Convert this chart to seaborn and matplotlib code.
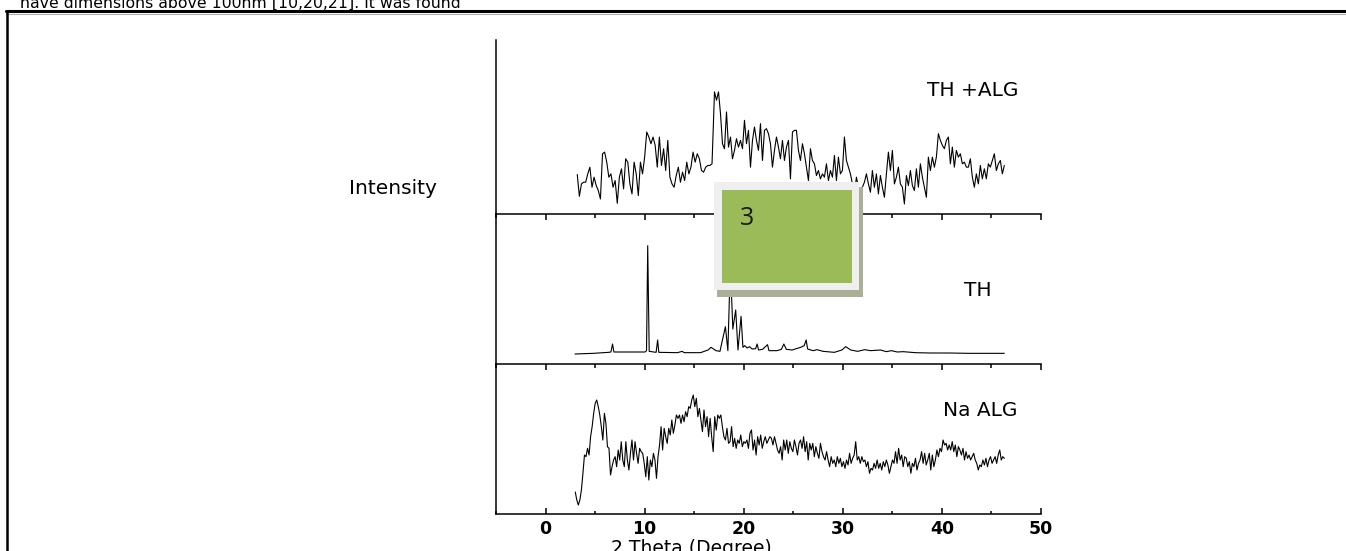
import numpy as np
import pandas as pd
import matplotlib
matplotlib.use("Agg")
import matplotlib.pyplot as plt
from matplotlib.lines import Line2D
from matplotlib.patches import Rectangle
from matplotlib.ticker import MultipleLocator
import seaborn as sns

# figure size in pixels
W, H = 1346, 551

# ---- data (intensities in arbitrary units) ----
# TH + ALG: two scan segments, split at the jump near 17 deg
tha_seg_a = [118, 53, 90, 95, 95, 120, 140, 80, 110, 85, 70, 45, 180, 185, 155,
             110, 120, 80, 100, 32, 110, 135, 75, 165, 155, 90, 60, 155, 120, 55,
             155, 120, 170, 245, 230, 210, 230, 205, 140, 230, 145, 195, 130, 220,
             110, 90, 80, 115, 140, 95, 125, 100, 155, 120, 140, 185, 155, 180, 165,
             130, 125, 140, 145, 145, 150]
tha_seg_b = [365, 340, 365, 300, 210, 195, 305, 200, 230, 165, 190, 225, 200, 220,
             195, 280, 210, 250, 140, 220, 260, 220, 190, 270, 160, 250, 255, 240,
             210, 140, 190, 230, 200, 165, 220, 160, 200, 220, 105, 245, 250, 250,
             190, 160, 210, 180, 140, 100, 195, 160, 150, 115, 130, 105, 120, 110,
             150, 100, 130, 110, 175, 100, 170, 120, 130, 230, 160, 140, 120, 90,
             60, 110, 80, 50, 80, 95, 120, 90, 65, 130, 80, 120, 60, 115, 80, 50,
             120, 185, 130, 190, 90, 110, 140, 90, 80, 30, 115, 85, 130, 85, 70,
             135, 80, 150, 110, 80, 50, 170, 130, 170, 140, 170, 240, 220, 205, 195,
             220, 230, 150, 200, 140, 190, 170, 180, 150, 155, 140, 140, 165, 110,
             80, 120, 90, 145, 105, 135, 105, 150, 140, 160, 180, 130, 150, 160,
             120, 145]
tha_range_a = (3.2, 16.8)
tha_range_b = (17.05, 46.3)

# TH: crystalline peaks (2theta, intensity)
th_2theta = [2.97, 4.83, 6.37, 6.6, 6.76, 6.9, 8.69, 10.04, 10.19, 10.31, 10.46,
             11.16, 11.31, 11.43, 13.32, 13.78, 14.0, 15.64, 16.4, 16.7, 17.2,
             17.6, 18.15, 18.4, 18.65, 18.9, 19.19, 19.42, 19.73, 19.92, 20.1,
             20.35, 20.58, 20.85, 21.2, 21.35, 21.5, 21.9, 22.4, 22.55, 23.36,
             23.8, 24.05, 24.3, 24.9, 25.3, 25.75, 26.1, 26.3, 26.45, 27.0, 27.4,
             28.0, 29.15, 29.9, 30.3, 30.8, 31.5, 32.2, 32.8, 33.8, 34.4, 34.9,
             35.5, 36.1, 37.3, 38.8, 40.7, 42.7, 44.6, 46.3]
th_int = [30, 32, 35, 36, 60, 36, 36, 36, 40, 355, 38, 35, 72, 35, 34, 38, 34,
          34, 42, 50, 40, 38, 112, 40, 300, 105, 162, 42, 143, 50, 55, 48, 52,
          45, 46, 60, 42, 44, 58, 40, 40, 44, 60, 44, 42, 46, 50, 55, 72, 45, 40,
          43, 38, 35, 42, 52, 42, 38, 43, 40, 42, 37, 40, 36, 37, 34, 33, 33, 32,
          32, 32]

# Na ALG: amorphous scan
na_alg = [66, 42, 27, 42, 72, 122, 177, 172, 197, 177, 232, 262, 302, 332, 342,
          322, 297, 262, 222, 302, 272, 202, 197, 117, 142, 162, 172,
          142, 192, 162, 217, 162, 142, 217, 162, 132, 182, 222, 162, 217, 182,
          152, 197, 187, 182, 152, 112, 172, 102, 162, 142, 182, 162, 107, 172,
          207, 262, 192, 257, 232, 212, 257, 237, 282, 242, 267, 297, 287, 297,
          272, 297, 277, 307, 292, 322, 317, 342, 357, 322, 347, 292, 317, 282,
          247, 312, 262, 292, 232, 287, 232, 187, 292, 252, 297, 287, 297, 262,
          232, 222, 257, 212, 217, 262, 202, 227, 197, 222, 212, 237, 202, 217,
          212, 222, 197, 242, 252, 192, 222, 177, 232, 207, 237, 197, 217, 232,
          212, 222, 232, 227, 207, 232, 212, 192, 182, 202, 162, 222, 192, 222,
          182, 217, 197, 187, 222, 202, 177, 212, 222, 197, 232, 187, 217, 162,
          212, 192, 212, 172, 202, 182, 167, 212, 187, 172, 162, 187, 162, 142,
          172, 152, 162, 142, 172, 152, 167, 142, 157, 137, 162, 147, 182, 152,
          167, 177, 217, 162, 172, 152, 172, 157, 162, 142, 157, 122, 137, 132,
          152, 137, 162, 137, 152, 132, 157, 142, 162, 147, 122, 142, 162, 152,
          187, 152, 197, 162, 177, 142, 172, 167, 142, 157, 122, 152, 142, 167,
          132, 152, 162, 187, 152, 182, 147, 162, 182, 132, 177, 142, 162, 192,
          172, 197, 187, 222, 207, 212, 192, 207, 192, 217, 187, 207, 172, 202,
          192, 177, 197, 162, 187, 167, 177, 162, 172, 182, 162, 152, 132, 147,
          142, 162, 147, 167, 142, 162, 172, 152, 162, 172, 152, 177, 192, 162,
          172, 167]
na_range = (3.0, 46.3)

series_labels = ["TH +ALG", "TH", "Na ALG"]
x_major = [0, 10, 20, 30, 40, 50]
x_label = "2 Theta (Degree)"
y_label = "Intensity"
page_text = "have dimensions above 100nm [10,20,21]. It was found"
box_text = "3"


def fx(px):
    return px / W


def fy(py):
    return 1 - py / H


def main():
    sns.set_style("ticks")
    plt.rcParams["font.family"] = ["DejaVu Sans"]
    plt.rcParams["text.color"] = "black"
    plt.rcParams["xtick.color"] = "black"
    plt.rcParams["xtick.labelcolor"] = "black"

    tha = pd.DataFrame({
        "two_theta": np.concatenate([np.linspace(*tha_range_a, len(tha_seg_a)),
                                     np.linspace(*tha_range_b, len(tha_seg_b))]),
        "intensity": tha_seg_a + tha_seg_b,
    })
    th = pd.DataFrame({"two_theta": th_2theta, "intensity": th_int})
    na = pd.DataFrame({"two_theta": np.linspace(*na_range, len(na_alg)),
                       "intensity": na_alg})

    fig = plt.figure(figsize=(W / 100, H / 100), dpi=100)
    fig.patch.set_facecolor("white")

    left, right = 496, 1041
    panels = [(40, 214, tha, 520), (214, 364, th, 450), (364, 514, na, 450)]
    axes = []
    for top, bot, df, ymax in panels:
        ax = fig.add_axes([fx(left), fy(bot), fx(right - left), (bot - top) / H])
        ax.set_facecolor("none")
        sns.lineplot(data=df, x="two_theta", y="intensity", ax=ax, color="black",
                     linewidth=0.8, estimator=None, sort=False)
        ax.set_xlim(-5, 50)
        ax.set_ylim(0, ymax)
        ax.set_xlabel("")
        ax.set_ylabel("")
        ax.set_yticks([])
        ax.set_xticks(x_major)
        ax.xaxis.set_minor_locator(MultipleLocator(5))
        for side in ["top", "right"]:
            ax.spines[side].set_visible(False)
        for side in ["left", "bottom"]:
            ax.spines[side].set_linewidth(1.1)
            ax.spines[side].set_color("black")
        axes.append(ax)

    for ax in axes[:2]:
        ax.tick_params(axis="x", which="major", direction="out", length=4.5,
                       width=1.1, color="black", labelbottom=False)
        ax.tick_params(axis="x", which="minor", direction="out", length=3,
                       width=1.1, color="black")
    axes[2].tick_params(axis="x", which="major", direction="in", length=4,
                        width=1.1, color="black", labelsize=12.5, pad=4,
                        labelcolor="black")
    axes[2].tick_params(axis="x", which="minor", direction="in", length=2.5,
                        width=1.1, color="black")
    for lab in axes[2].get_xticklabels():
        lab.set_fontweight("bold")

    # series labels
    fig.text(fx(973), fy(91), series_labels[0], ha="center", va="center", fontsize=14.5)
    fig.text(fx(978), fy(291), series_labels[1], ha="center", va="center", fontsize=14.5)
    fig.text(fx(980), fy(411), series_labels[2], ha="center", va="center", fontsize=14.5)

    fig.text(fx(393), fy(188), y_label, ha="center", va="center", fontsize=14.5)
    fig.text(fx(691), fy(539), x_label, ha="center", va="top", fontsize=13.5)

    # page frame and running text
    fig.add_artist(Line2D([fx(6), 1], [fy(11), fy(11)], color="black", lw=2.2))
    fig.add_artist(Line2D([fx(6), 1], [fy(13.5), fy(13.5)], color="#b0b0b0", lw=0.8))
    fig.add_artist(Line2D([fx(7), fx(7)], [0, fy(11)], color="black", lw=1.8))
    fig.text(fx(20), fy(8), page_text, ha="left", va="baseline", fontsize=11.3)

    # overlapping text box
    fig.add_artist(Rectangle((fx(717), fy(297)), fx(146), 110 / H,
                             facecolor="#a9b096", edgecolor="none", zorder=10))
    fig.add_artist(Rectangle((fx(714), fy(290)), fx(145), 108 / H,
                             facecolor="#efefef", edgecolor="none", zorder=11))
    fig.add_artist(Rectangle((fx(722), fy(283)), fx(130), 93 / H,
                             facecolor="#9bbb59", edgecolor="none", zorder=12))
    fig.text(fx(747), fy(218), box_text, ha="center", va="center", fontsize=18,
             family="Open Sans", color="#1a1a1a", zorder=13)

    fig.savefig("out.png", dpi=100, facecolor="white")
    plt.close(fig)


if __name__ == "__main__":
    main()
